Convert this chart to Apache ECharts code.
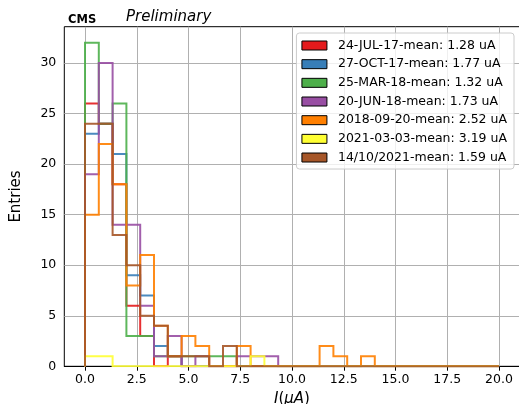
<!DOCTYPE html>
<html>
<head>
<meta charset="utf-8">
<script src="https://cdn.jsdelivr.net/npm/echarts@6/dist/echarts.min.js"></script>
<style>
html,body{margin:0;padding:0;background:#fff;}
#c{width:519px;height:404px;}
</style>
</head>
<body>
<div id="c"></div>
<script>
// ---- data (histogram: 30 bins from 0 to 20 uA) ----
const binStart = 0;
const binEnd = 20;
const binCount = 30;

const seriesNames = [
  '24-JUL-17-mean: 1.28 uA',
  '27-OCT-17-mean: 1.77 uA',
  '25-MAR-18-mean: 1.32 uA',
  '20-JUN-18-mean: 1.73 uA',
  '2018-09-20-mean: 2.52 uA',
  '2021-03-03-mean: 3.19 uA',
  '14/10/2021-mean: 1.59 uA'
];
const seriesColors = ['#e41a1c','#377eb8','#4daf4a','#984ea3','#ff7f00','#ffff33','#a65628'];

const jul17  = [26,24,18,6,3,0,1,0,0,0, 0,0,0,0,0,0,0,0,0,0, 0,0,0,0,0,0,0,0,0,0];
const oct17  = [23,24,21,9,7,2,1,0,0,0, 0,0,0,0,0,0,0,0,0,0, 0,0,0,0,0,0,0,0,0,0];
const mar18  = [32,24,26,3,3,1,1,1,1,1, 1,0,0,0,0,0,0,0,0,0, 0,0,0,0,0,0,0,0,0,0];
const jun18  = [19,30,14,14,6,1,3,0,1,0, 0,1,1,1,0,0,0,0,0,0, 0,0,0,0,0,0,0,0,0,0];
const sep18  = [15,22,18,8,11,4,1,3,2,0, 0,2,0,0,0,0,0,2,1,0, 1,0,0,0,0,0,0,0,0,0];
const mar21  = [1,1,0,0,0,0,0,0,0,0, 0,0,1,0,0,0,0,0,0,0, 0,0,0,0,0,0,0,0,0,0];
const oct21  = [24,24,13,10,5,4,1,1,1,0, 2,0,0,0,0,0,0,0,0,0, 0,0,0,0,0,0,0,0,0,0];

const xTicks = [0,2.5,5,7.5,10,12.5,15,17.5,20];
const yTicks = [0,5,10,15,20,25,30];

const allCounts = [jul17, oct17, mar18, jun18, sep18, mar21, oct21];

// ---- build step outlines from the counts ----
function stepOutline(counts) {
  const w = (binEnd - binStart) / binCount;
  const pts = [[binStart, 0]];
  for (let i = 0; i < counts.length; i++) {
    pts.push([binStart + i * w, counts[i]]);
    pts.push([binStart + (i + 1) * w, counts[i]]);
  }
  pts.push([binEnd, 0]);
  return pts;
}

const FONT = 'DejaVu Sans';
const chart = echarts.init(document.getElementById('c'), null, {renderer: 'canvas'});

const gridLineStyle = {color: '#b0b0b0', width: 1, type: 'solid'};

const gridSeries = {
  type: 'line', name: '__grid', data: [], z: 1, silent: true, animation: false,
  markLine: {
    z: 1, zlevel: 0,
    silent: true, symbol: ['none','none'], animation: false,
    label: {show: false}, emphasis: {disabled: true},
    lineStyle: gridLineStyle,
    data: xTicks.map(v => ({xAxis: v})).concat(yTicks.filter(v => v > 0).map(v => ({yAxis: v})))
  }
};

const series = [gridSeries].concat(allCounts.map((c, k) => ({
  name: seriesNames[k],
  type: 'line',
  data: stepOutline(c),
  showSymbol: false,
  symbol: 'none',
  animation: false,
  z: 3,
  color: seriesColors[k],
  lineStyle: {width: 2, color: seriesColors[k], opacity: 0.9, join: 'miter'},
  emphasis: {disabled: true}
})));

chart.setOption({
  animation: false,
  textStyle: {fontFamily: FONT},
  title: [
    {text: 'CMS', left: 68, top: 14, padding: 0,
     textStyle: {fontFamily: FONT, fontWeight: 'bold', fontSize: 11.5, color: '#000'}},
    {text: 'Preliminary', left: 126, top: 10, padding: 0,
     textStyle: {fontFamily: FONT, fontStyle: 'italic', fontWeight: 'normal', fontSize: 15, color: '#000'}}
  ],
  grid: {left: 64.3, top: 26.7, width: 455.4, height: 339.6,
         containLabel: false, outerBoundsMode: 'none',
         show: true, borderColor: '#000', borderWidth: 1, backgroundColor: 'transparent'},
  legend: {
    z: 10,
    orient: 'vertical', right: 5, top: 33,
    padding: [6, 7, 5, 5],
    itemWidth: 25, itemHeight: 9, itemGap: 5.67,
    icon: 'rect',
    backgroundColor: 'rgba(255,255,255,0.8)',
    borderColor: '#cccccc', borderWidth: 1, borderRadius: 3,
    itemStyle: {borderColor: '#000', borderWidth: 1},
    textStyle: {fontFamily: FONT, fontSize: 12.5, color: '#000', padding: [0,0,0,6]},
    data: seriesNames
  },
  xAxis: {
    type: 'value', min: -1, max: 21,
    name: '{i|I}({i|μA})',
    nameLocation: 'middle', nameGap: 20,
    nameTextStyle: {fontFamily: FONT, fontSize: 15, color: '#000',
      rich: {i: {fontFamily: FONT, fontStyle: 'italic', fontSize: 15, color: '#000'}}},
    axisLine: {show: true, onZero: false, lineStyle: {color: '#000', width: 1}},
    axisTick: {show: true, inside: false, length: 4.4, lineStyle: {color: '#000', width: 1},
               customValues: xTicks},
    axisLabel: {fontFamily: FONT, fontSize: 12.5, color: '#000', margin: 7,
                customValues: xTicks, formatter: v => Number(v).toFixed(1)},
    splitLine: {show: false}
  },
  yAxis: {
    type: 'value', min: 0, max: 33.6,
    name: 'Entries',
    nameLocation: 'middle', nameGap: 41,
    nameTextStyle: {fontFamily: FONT, fontSize: 15, color: '#000'},
    axisLine: {show: true, lineStyle: {color: '#000', width: 1}},
    axisTick: {show: true, inside: false, length: 4.4, lineStyle: {color: '#000', width: 1},
               customValues: yTicks},
    axisLabel: {fontFamily: FONT, fontSize: 12.5, color: '#000', margin: 8,
                customValues: yTicks},
    splitLine: {show: false}
  },
  series: series
});
</script>
</body>
</html>
